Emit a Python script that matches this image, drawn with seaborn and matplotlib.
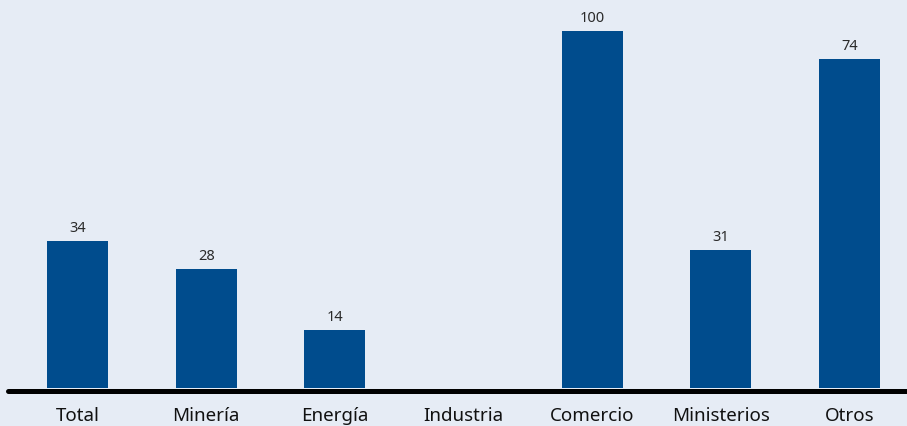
import matplotlib
matplotlib.use("Agg")
import matplotlib.pyplot as plt
import seaborn as sns
import pandas as pd

categories = ["Total", "Minería", "Energía", "Industria", "Comercio", "Ministerios", "Otros"]
# bar heights as drawn (relative scale, Comercio = 100)
bar_heights = [41.2, 33.3, 16.2, 0.0, 100.0, 38.7, 92.2]
# numbers printed above the bars
value_labels = ["34", "28", "14", "", "100", "31", "74"]

bg = "#E6ECF5"
bar_color = "#004C8D"

sns.set_theme(style="white")
plt.rcParams["font.family"] = ["Noto Sans", "DejaVu Sans"]

df = pd.DataFrame({"cat": categories, "val": bar_heights})

fig = plt.figure(figsize=(9.07, 4.26), dpi=100)
fig.patch.set_facecolor(bg)
ax = fig.add_axes([0, 38 / 426, 1, 388 / 426])
ax.set_facecolor(bg)

sns.barplot(data=df, x="cat", y="val", color=bar_color, saturation=1,
            width=0.474, linewidth=0, edgecolor="none", ax=ax)

for i, (h, lab) in enumerate(zip(bar_heights, value_labels)):
    if lab:
        ax.annotate(lab, xy=(i, h), xytext=(0, 3.5), textcoords="offset points",
                    ha="center", va="bottom", fontsize=10.5, color="#2a2a2a")

ax.set_xlim(-0.602, 6.447)
ax.set_ylim(0, 108.68)
ax.plot([-0.54, 6.6], [-0.8, -0.8], color="black", lw=3.6,
        solid_capstyle="round", clip_on=False, zorder=5)

for s in ax.spines.values():
    s.set_visible(False)
ax.set_yticks([])
ax.set_xlabel("")
ax.set_ylabel("")
ax.tick_params(axis="x", length=0, pad=14, labelsize=13.5, labelcolor="#111111")

fig.savefig("out.png", dpi=100, facecolor=bg)
